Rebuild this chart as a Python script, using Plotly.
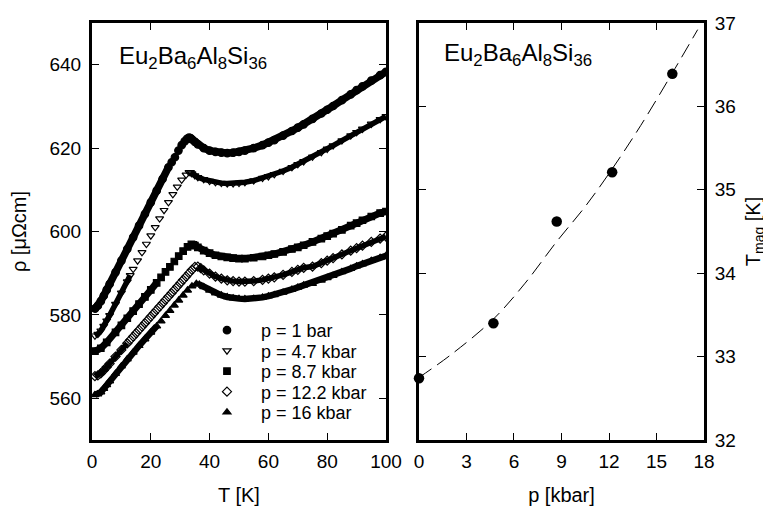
import plotly.graph_objects as go

# ---------------- left panel: rho(T) for five pressures ----------------
labels = ["p = 1 bar", "p = 4.7 kbar", "p = 8.7 kbar", "p = 12.2 kbar", "p = 16 kbar"]

# p = 1 bar
T1_lo = [1, 2, 3, 4, 5, 6, 8, 10, 12, 14, 16, 18, 20, 22, 24, 26]
R1_lo = [581.5, 582.2, 583.3, 584.6, 586.0, 587.4, 590.2, 593.0, 595.8, 598.6, 601.4, 604.2, 607.0, 609.8, 612.6, 615.4]
T1_mid = [27.1, 28.2, 29.4, 30.5, 31.5, 32.3, 33.0]
R1_mid = [616.6, 617.8, 619.4, 620.7, 621.6, 622.2, 622.5]
T1_hi = [33.5, 34, 35, 36, 38, 40, 42, 44, 46, 48, 50, 52, 55, 58, 60, 62, 65, 68, 70, 72, 75, 78, 80, 82, 85, 88, 90, 92, 95, 98, 100]
R1_hi = [622.4, 622.1, 621.5, 620.9, 620.0, 619.4, 619.1, 618.9, 618.8, 618.9, 619.1, 619.4, 620.0, 620.7, 621.3, 621.9, 623.0, 624.1, 624.9, 625.7, 627.0, 628.3, 629.2, 630.1, 631.5, 632.9, 633.9, 634.8, 636.2, 637.5, 638.3]

# p = 4.7 kbar
T2_lo = [1, 2, 3, 4, 5, 6, 8, 10, 12, 13]
R2_lo = [575.0, 575.4, 576.2, 577.3, 578.6, 579.9, 582.6, 585.3, 588.0, 589.5]
T2_mid = [14, 15.5, 17, 18.5, 20, 21.5, 23, 24.5, 26, 27.5, 29, 30.5, 32, 33]
R2_mid = [591.0, 593.0, 595.0, 597.0, 599.0, 601.0, 603.1, 605.1, 607.0, 608.9, 610.7, 612.4, 613.6, 614.2]
T2_hi = [33.5, 34, 35, 36, 38, 40, 42, 44, 46, 48, 50, 52, 55, 58, 60, 62, 65, 68, 70, 72, 75, 78, 80, 82, 85, 88, 90, 92, 95, 98, 100]
R2_hi = [614.2, 613.9, 613.4, 613.0, 612.5, 612.1, 611.8, 611.6, 611.5, 611.5, 611.6, 611.8, 612.2, 612.8, 613.2, 613.7, 614.5, 615.4, 616.1, 616.8, 617.9, 619.0, 619.8, 620.6, 621.8, 623.0, 623.8, 624.6, 625.8, 626.9, 627.6]

# p = 8.7 kbar
T3_lo = [1, 3, 5, 8, 10, 12, 14, 16, 18, 20, 22]
R3_lo = [571.3, 572.0, 573.4, 575.8, 577.5, 579.2, 580.9, 582.6, 584.3, 586.0, 587.7]
T3_mid = [23.5, 25, 26.5, 28, 29.5, 31, 32.5, 33.8]
R3_mid = [589.0, 590.3, 591.5, 592.8, 594.1, 595.3, 596.3, 596.9]
T3_hi = [34.5, 35, 36, 38, 40, 42, 44, 46, 48, 50, 52, 55, 58, 60, 62, 65, 68, 70, 72, 75, 78, 80, 82, 85, 88, 90, 92, 95, 98, 100]
R3_hi = [596.8, 596.6, 596.2, 595.4, 594.8, 594.3, 594.0, 593.8, 593.6, 593.5, 593.5, 593.7, 594.0, 594.3, 594.6, 595.1, 595.8, 596.2, 596.7, 597.5, 598.3, 598.9, 599.5, 600.4, 601.4, 602.0, 602.7, 603.6, 604.4, 604.8]

# p = 12.2 kbar
T4_lo = [1, 2, 3, 4, 5, 6, 8, 10, 12]
R4_lo = [565.3, 565.5, 566.0, 566.7, 567.5, 568.3, 570.0, 571.6, 573.2]
T4_mid = [13, 14, 15, 16, 17, 18, 19, 20, 21, 22, 23, 24, 25, 26, 27, 28, 29, 30, 31, 32, 33, 34, 35]
R4_mid = [574.0, 574.8, 575.6, 576.4, 577.2, 578.0, 578.8, 579.6, 580.4, 581.2, 582.0, 582.8, 583.6, 584.4, 585.2, 586.0, 586.8, 587.6, 588.4, 589.2, 590.0, 590.8, 591.5]
T4_hi = [36, 37, 38, 40, 42, 44, 46, 48, 50, 52, 55, 58, 60, 62, 65, 68, 70, 72, 75, 78, 80, 82, 85, 88, 90, 92, 95, 98, 100]
R4_hi = [591.6, 591.2, 590.7, 589.9, 589.2, 588.7, 588.3, 588.1, 588.0, 588.0, 588.1, 588.4, 588.7, 589.0, 589.6, 590.3, 590.8, 591.3, 591.6, 592.4, 593.0, 593.6, 594.5, 595.4, 596.0, 596.6, 597.5, 598.3, 598.8]

# p = 16 kbar
T5_lo = [1, 2, 3, 4, 5, 6, 8, 10, 12, 14, 16, 18, 20, 22]
R5_lo = [560.8, 561.0, 561.5, 562.3, 563.2, 564.1, 565.9, 567.7, 569.4, 571.0, 572.6, 574.2, 575.8, 577.3]
T5_mid = [23.5, 25, 26.5, 28, 29.5, 31, 32.5, 34, 35.5]
R5_mid = [578.5, 579.8, 581.0, 582.3, 583.5, 584.7, 585.9, 586.9, 587.5]
T5_hi = [36.5, 38, 40, 42, 44, 46, 48, 50, 52, 55, 58, 60, 62, 65, 68, 70, 72, 75, 78, 80, 82, 85, 88, 90, 92, 95, 98, 100]
R5_hi = [587.3, 586.7, 585.9, 585.2, 584.7, 584.3, 584.0, 583.9, 583.8, 583.9, 584.2, 584.5, 584.8, 585.4, 586.1, 586.6, 587.1, 587.5, 588.3, 588.9, 589.4, 590.3, 591.1, 591.7, 592.2, 593.0, 593.7, 594.2]

# ---------------- right panel: T_mag(p) ----------------
p_kbar = [0, 4.7, 8.7, 12.2, 16]
T_mag = [32.74, 33.40, 34.62, 35.21, 36.39]
fit_p = [0, 2, 4.7, 6.7, 8.7, 10.5, 12.2, 14, 16, 17.6]
fit_T = [32.75, 33.02, 33.45, 33.88, 34.38, 34.80, 35.25, 35.77, 36.40, 36.92]

compound = "Eu<sub>2</sub>Ba<sub>6</sub>Al<sub>8</sub>Si<sub>36</sub>"

FONT = "Liberation Sans, Arial, sans-serif"

curves = [
    (T1_lo, R1_lo, T1_mid, R1_mid, T1_hi, R1_hi, "circle", 7.5, 7.5),
    (T2_lo, R2_lo, T2_mid, R2_mid, T2_hi, R2_hi, "triangle-down-open", 7, 5.5),
    (T3_lo, R3_lo, T3_mid, R3_mid, T3_hi, R3_hi, "square", 6.5, 7),
    (T4_lo, R4_lo, T4_mid, R4_mid, T4_hi, R4_hi, "diamond-open", 7, 5.5),
    (T5_lo, R5_lo, T5_mid, R5_mid, T5_hi, R5_hi, "triangle-up", 7, 6.5),
]

# one single-item legend per pressure so the row spacing matches the original
legend_names = ["legend", "legend2", "legend3", "legend4", "legend5"]
row_centers_px = [330, 350.5, 371, 391.5, 412]   # vertical centre of each legend row (window px)
plot_top, plot_bottom = 23, 440                  # plot area (window px)

fig = go.Figure()
for (tl, rl, tm, rm, th, rh, sym, msize, lw), name, lg in zip(curves, labels, legend_names):
    fig.add_trace(go.Scatter(
        x=tl + [None] + th, y=rl + [None] + rh, mode="lines",
        line=dict(color="black", width=lw), showlegend=False, hoverinfo="skip",
        xaxis="x", yaxis="y"))
    fig.add_trace(go.Scatter(
        x=tl + tm + th, y=rl + rm + rh, mode="markers", name=name, legend=lg,
        marker=dict(symbol=sym, size=msize, color="black",
                    line=dict(color="black", width=1.2)),
        xaxis="x", yaxis="y"))

fig.add_trace(go.Scatter(
    x=fit_p, y=fit_T, mode="lines",
    line=dict(color="black", width=1, dash="15px,7px", shape="spline"),
    showlegend=False, xaxis="x2", yaxis="y2"))
fig.add_trace(go.Scatter(
    x=p_kbar, y=T_mag, mode="markers", marker=dict(symbol="circle", size=10.5, color="black"),
    showlegend=False, xaxis="x2", yaxis="y2", cliponaxis=False))

axis_common = dict(
    showline=True, linecolor="black", linewidth=3, mirror="allticks",
    ticks="inside", ticklen=7, tickwidth=1.2, tickcolor="black",
    showgrid=False, zeroline=False, automargin=False,
    tickfont=dict(family=FONT, size=19, color="black"),
    title_font=dict(family=FONT, size=20, color="black"),
)

legend_style = dict(xanchor="left", yanchor="top", bgcolor="rgba(0,0,0,0)",
                    borderwidth=0, itemwidth=58,
                    font=dict(family=FONT, size=18, color="black"))
legends = {}
for lg, yc in zip(legend_names, row_centers_px):
    top_px = yc - 18
    legends[lg] = dict(x=0.165, y=(plot_bottom - top_px) / (plot_bottom - plot_top), **legend_style)

fig.update_layout(
    width=771, height=509,
    # the page body adds an 8 px offset, so the margins are reduced by 8 px on the left/top
    margin=dict(l=84, r=75, t=15, b=77),
    paper_bgcolor="white", plot_bgcolor="white",
    font=dict(family=FONT, color="black"),
    xaxis=dict(domain=[0, 0.4804], range=[0, 100], tickvals=[0, 20, 40, 60, 80, 100],
               ticklabelstandoff=2,
               title=dict(text="T [K]", standoff=18), **axis_common),
    yaxis=dict(domain=[0, 1], range=[550, 650], tickvals=[560, 580, 600, 620, 640],
               ticklabelstandoff=4,
               title=dict(text="ρ [μΩcm]", standoff=18), **axis_common),
    xaxis2=dict(domain=[0.5343, 1], range=[0, 18], tickvals=[0, 3, 6, 9, 12, 15, 18],
                anchor="y2", ticklabelstandoff=2,
                title=dict(text="p [kbar]", standoff=18), **axis_common),
    yaxis2=dict(domain=[0, 1], range=[32, 37], tickvals=[32, 33, 34, 35, 36, 37],
                anchor="x2", side="right", ticklabelstandoff=4,
                title=dict(text="T<sub>mag</sub> [K]", standoff=11), **axis_common),
    showlegend=True,
    annotations=[
        dict(text=compound, xref="x domain", yref="y domain", x=0.085, y=0.917,
             xanchor="left", yanchor="middle", showarrow=False,
             font=dict(family=FONT, size=24, color="black")),
        dict(text=compound, xref="x2 domain", yref="y2 domain", x=0.08, y=0.925,
             xanchor="left", yanchor="middle", showarrow=False,
             font=dict(family=FONT, size=24, color="black")),
    ],
    **legends,
)

fig.write_html("out.html")
